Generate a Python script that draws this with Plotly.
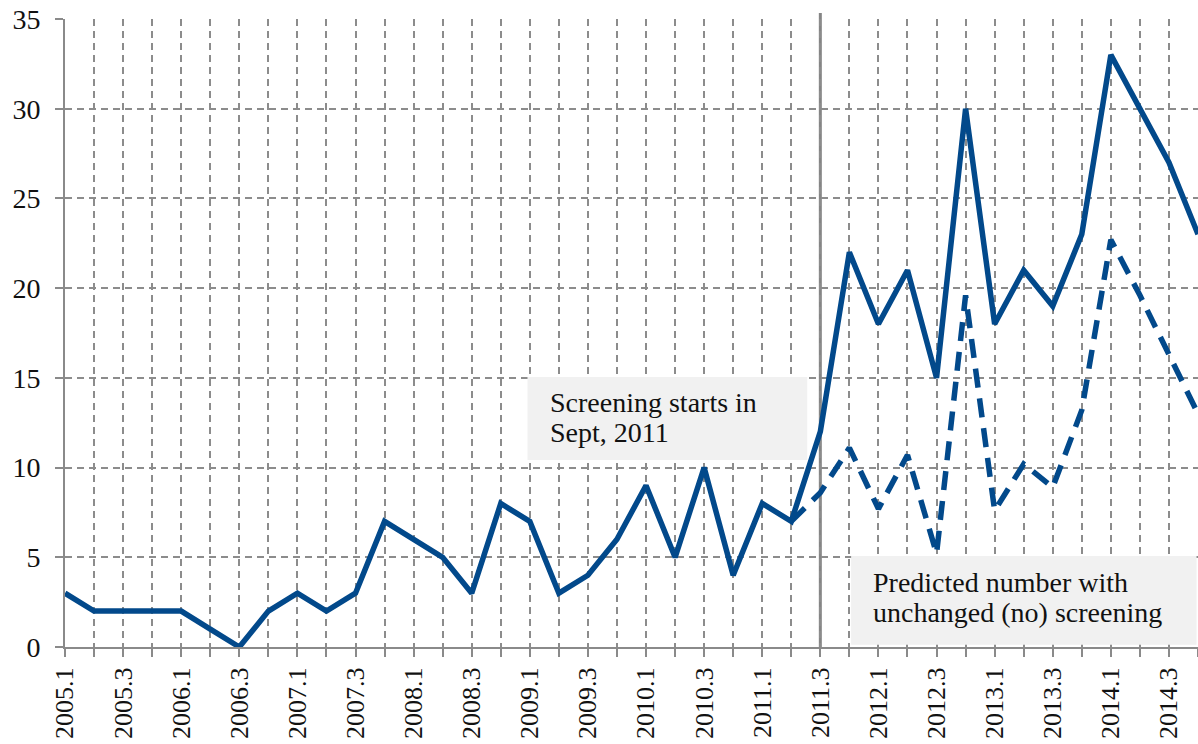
import plotly.graph_objects as go

quarters = [f"{y}.{q}" for y in range(2005, 2015) for q in range(1, 5)]

observed = [3, 2, 2, 2, 2, 1, 0, 2, 3, 2,
            3, 7, 6, 5, 3, 8, 7, 3, 4, 6,
            9, 5, 10, 4, 8, 7, 12, 22, 18, 21,
            15, 30, 18, 21, 19, 23, 33, 30, 27, 23]

predicted = [None] * 25 + [7, 8.6, 11.1, 7.7, 10.7, 5.2, 19.6, 7.6, 10.2, 8.9,
                           13.2, 22.7, 19.6, 16.3, 13.0]

tick_text = [q if i % 2 == 0 else "" for i, q in enumerate(quarters)]
y_ticks = [0, 5, 10, 15, 20, 25, 30, 35]

screen_start = "2011.3"
note1 = ["Screening starts in", "Sept, 2011"]
note2 = ["Predicted number with", "unchanged (no) screening"]

BLUE = "#02498B"
GRID = "#8C8C8C"
AXIS = "#8A8A8A"
FONT = "Liberation Serif"

idx = list(range(len(quarters)))

fig = go.Figure()
fig.add_trace(go.Scatter(x=idx, y=predicted, mode="lines",
                         line=dict(color=BLUE, width=5.5, dash="19px,11px"),
                         connectgaps=False, showlegend=False, cliponaxis=True,
                         hoverinfo="skip"))
fig.add_trace(go.Scatter(x=idx, y=observed, mode="lines",
                         line=dict(color=BLUE, width=5.5),
                         showlegend=False, cliponaxis=True, hoverinfo="skip"))

xs = quarters.index(screen_start)

# annotation boxes
fig.add_shape(type="rect", xref="x", yref="y", x0=15.92, x1=25.55, y0=10.42, y1=15.05,
              fillcolor="#F1F1F1", line=dict(width=0), layer="between")
fig.add_shape(type="rect", xref="x", yref="y", x0=27.06, x1=38.95, y0=0.12, y1=5.07,
              fillcolor="#F1F1F1", line=dict(width=0), layer="between")
# screening start line
fig.add_shape(type="line", xref="x", yref="paper", x0=xs, x1=xs, y0=0, y1=1.0096,
              line=dict(color="#858585", width=3), layer="between")

for txt, yv in zip(note1, [13.62, 11.95]):
    fig.add_annotation(x=16.61, y=yv, xref="x", yref="y", text=txt, showarrow=False,
                       xanchor="left", yanchor="middle",
                       font=dict(family=FONT, size=28, color="#111111"))
for txt, yv in zip(note2, [3.6, 1.93]):
    fig.add_annotation(x=27.75, y=yv, xref="x", yref="y", text=txt, showarrow=False,
                       xanchor="left", yanchor="middle",
                       font=dict(family=FONT, size=28, color="#111111"))

fig.update_layout(
    width=1198, height=744,
    margin=dict(l=65, r=0, t=19, b=97),
    plot_bgcolor="white", paper_bgcolor="white",
    hovermode=False,
    xaxis=dict(range=[0, 39], tickmode="array", tickvals=idx, ticktext=tick_text,
               tickangle=-90, ticks="outside", ticklen=8, tickwidth=1.5, tickcolor=AXIS,
               showgrid=True, gridcolor=GRID, gridwidth=1.5, griddash="7px,5px",
               showline=True, linecolor=AXIS, linewidth=2, zeroline=False,
               automargin=False, ticklabelstandoff=0, ticklabeloverflow="allow",
               tickfont=dict(family=FONT, size=26, color="#111111")),
    yaxis=dict(range=[0, 35], tickmode="array", tickvals=y_ticks,
               ticks="outside", ticklen=8, tickwidth=1.5, tickcolor=AXIS,
               showgrid=True, gridcolor=GRID, gridwidth=1.5, griddash="7px,5px",
               showline=True, linecolor=AXIS, linewidth=2, zeroline=False,
               automargin=False, ticklabelstandoff=9, ticklabeloverflow="allow",
               tickfont=dict(family=FONT, size=28, color="#111111")),
)

fig.write_html("out.html", config={"displayModeBar": False},
               post_script="document.body.style.margin='0';document.body.style.overflow='hidden';")
